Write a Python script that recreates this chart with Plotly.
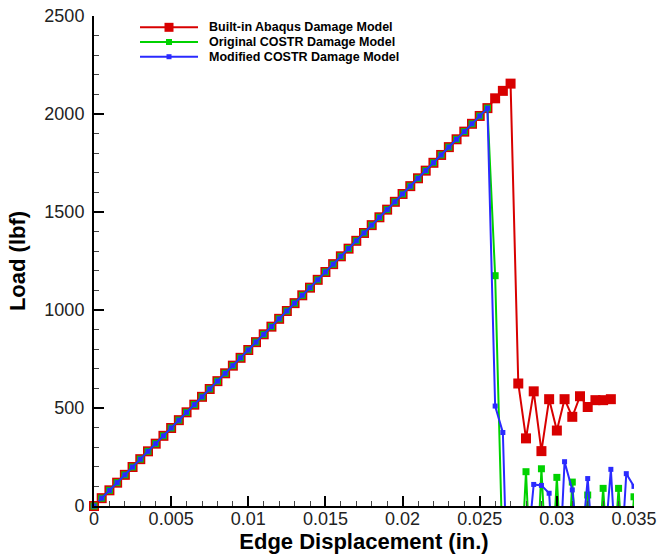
import plotly.graph_objects as go

# ---------------- data ----------------
# shared linear (elastic) part: displacement (in.) and load (lbf)
lin_disp = [0.0, 0.0005, 0.001, 0.0015, 0.002, 0.0025, 0.003, 0.0035, 0.004, 0.0045,
            0.005, 0.0055, 0.006, 0.0065, 0.007, 0.0075, 0.008, 0.0085, 0.009, 0.0095,
            0.010, 0.0105, 0.011, 0.0115, 0.012, 0.0125, 0.013, 0.0135, 0.014, 0.0145,
            0.015, 0.0155, 0.016, 0.0165, 0.017, 0.0175, 0.018, 0.0185, 0.019, 0.0195,
            0.020, 0.0205, 0.021, 0.0215, 0.022, 0.0225, 0.023, 0.0235, 0.024, 0.0245,
            0.025, 0.0255]
lin_load = [0, 40, 80, 119, 159, 199, 239, 279, 318, 358,
            398, 438, 478, 517, 557, 597, 637, 677, 716, 756,
            796, 836, 876, 915, 955, 995, 1035, 1075, 1114, 1154,
            1194, 1234, 1274, 1313, 1353, 1393, 1433, 1473, 1512, 1552,
            1592, 1632, 1672, 1711, 1751, 1791, 1831, 1871, 1910, 1950,
            1990, 2030]

# post-peak parts
abaqus_disp = [0.026, 0.0265, 0.027, 0.0275, 0.028, 0.0285, 0.029, 0.0295, 0.030,
               0.0305, 0.031, 0.0315, 0.032, 0.0325, 0.033, 0.0335]
abaqus_load = [2080, 2118, 2155, 625, 345, 585, 280, 545, 385,
               545, 455, 560, 505, 540, 540, 545]

orig_disp = [0.026, 0.0265, 0.027, 0.0275, 0.028, 0.0285, 0.029, 0.0295, 0.030,
             0.0305, 0.031, 0.0315, 0.032, 0.0325, 0.033, 0.0335, 0.034, 0.0345, 0.035]
orig_load = [1175, -300, -400, -600, 175, -700, 190, -600, 146,
             -600, 122, -500, 56, -500, 90, -500, 90, -500, 47]

mod_disp = [0.026, 0.0265, 0.027, 0.0275, 0.028, 0.0285, 0.029, 0.0295, 0.030,
            0.0305, 0.031, 0.0315, 0.032, 0.0325, 0.033, 0.0335, 0.034, 0.0345, 0.035]
mod_load = [510, 375, -1000, -500, -300, 110, 105, 65, -600,
            226, 82, -300, 140, -400, -300, 187, -500, 165, 100]

series_names = ["Built-in Abaqus Damage Model",
                "Original COSTR Damage Model",
                "Modified COSTR Damage Model"]

x_tick_vals = [0, 0.005, 0.01, 0.015, 0.02, 0.025, 0.03, 0.035]
x_tick_text = ["0", "0.005", "0.01", "0.015", "0.02", "0.025", "0.03", "0.035"]
y_tick_vals = [0, 500, 1000, 1500, 2000, 2500]
y_tick_text = ["0", "500", "1000", "1500", "2000", "2500"]

# ---------------- styling ----------------
colors = ["#d80000", "#00d200", "#2a2aff"]
msizes = [10, 7, 5]
legend_msizes = [9, 6, 5]
font_family = "Liberation Sans, Arial, Helvetica, sans-serif"

series = [
    (lin_disp + abaqus_disp, lin_load + abaqus_load),
    (lin_disp + orig_disp, lin_load + orig_load),
    (lin_disp + mod_disp, lin_load + mod_load),
]

fig = go.Figure()
for (xs, ys), name, c, ms in zip(series, series_names, colors, msizes):
    fig.add_trace(go.Scatter(
        x=xs, y=ys, name=name, mode="lines+markers", showlegend=False,
        line=dict(color=c, width=2),
        marker=dict(symbol="square", size=ms, color=c),
    ))
# origin markers drawn un-clipped (as in the reference, they overhang the axes)
for (xs, ys), c, ms in zip(series, colors, msizes):
    fig.add_trace(go.Scatter(
        x=xs[:1], y=ys[:1], mode="markers", showlegend=False, cliponaxis=False,
        marker=dict(symbol="square", size=ms, color=c), hoverinfo="skip",
    ))

# ---------------- legend (drawn as layout decoration for exact sizing) ----------------
leg_x0, leg_x1, leg_xm, leg_tx = 0.0852, 0.1926, 0.1389, 0.2093
leg_rows = [0.9769, 0.9469, 0.9169]
for name, c, ms, ly in zip(series_names, colors, legend_msizes, leg_rows):
    fig.add_shape(type="line", xref="paper", yref="paper",
                  x0=leg_x0, x1=leg_x1, y0=ly, y1=ly,
                  line=dict(color=c, width=2))
    fig.add_shape(type="rect", xref="paper", yref="paper",
                  xsizemode="pixel", ysizemode="pixel",
                  xanchor=leg_xm, yanchor=ly,
                  x0=-ms / 2, x1=ms / 2, y0=-ms / 2, y1=ms / 2,
                  fillcolor=c, line=dict(width=0))
    fig.add_annotation(xref="paper", yref="paper", x=leg_tx, y=ly,
                       xanchor="left", yanchor="middle", showarrow=False,
                       text="<b>" + name + "</b>",
                       font=dict(family=font_family, size=12.5, color="black"))

axis_common = dict(
    showgrid=False, zeroline=False, showline=True, linecolor="black", linewidth=2,
    ticks="inside", ticklen=10, tickwidth=2, tickcolor="black",
    tickfont=dict(family=font_family, size=18, color="#222"),
    minor=dict(ticks="inside", ticklen=5, tickwidth=1, tickcolor="#444"),
    mirror=False, automargin=False,
)
fig.update_xaxes(
    range=[0, 0.035], tickvals=x_tick_vals, ticktext=x_tick_text,
    minor_dtick=0.001, ticklabelstandoff=-5,
    title=dict(text="<b>Edge Displacement (in.)</b>", standoff=0,
               font=dict(family=font_family, size=22, color="black")),
    **axis_common,
)
fig.update_yaxes(
    range=[0, 2500], tickvals=y_tick_vals, ticktext=y_tick_text,
    minor_dtick=100, ticklabelstandoff=4,
    title=dict(text="<b>Load (lbf)</b>", standoff=13,
               font=dict(family=font_family, size=22, color="black")),
    **axis_common,
)
fig.update_layout(
    width=670, height=556,
    margin=dict(l=94, r=36, t=16, b=50),
    paper_bgcolor="white", plot_bgcolor="white",
    showlegend=False,
    font=dict(family=font_family),
)

fig.write_html("out.html")
